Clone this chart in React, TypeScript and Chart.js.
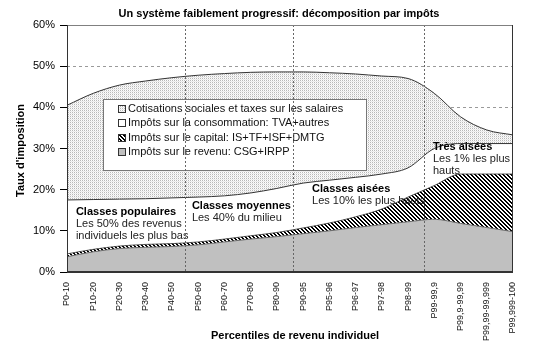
import React, { useEffect, useRef } from 'react';
import { Chart, registerables } from 'chart.js';

Chart.register(...registerables);

const FONT = "'Liberation Sans', Arial, sans-serif";

const categories = [
  'P0-10', 'P10-20', 'P20-30', 'P30-40', 'P40-50', 'P50-60', 'P60-70', 'P70-80', 'P80-90',
  'P90-95', 'P95-96', 'P96-97', 'P97-98', 'P98-99', 'P99-99,9', 'P99,9-99,99', 'P99,99-99,999', 'P99,999-100',
];

// Rates by tax (percentage points), stacked bottom to top
const impotRevenu = [3.7, 4.9, 5.7, 6.0, 6.2, 6.6, 7.3, 8.0, 8.6, 9.3, 10.0, 10.8, 11.5, 12.2, 12.8, 11.8, 10.8, 9.8];
const impotCapital = [0.7, 0.6, 0.6, 0.7, 0.7, 0.7, 0.7, 0.8, 1.0, 1.4, 1.9, 2.6, 3.8, 6.0, 8.2, 12.0, 13.0, 14.0];
const impotConsommation = [13.1, 12.1, 11.4, 11.1, 11.1, 10.9, 10.5, 10.4, 10.7, 10.9, 10.4, 9.6, 8.5, 7.1, 9.0, 7.4, 7.4, 7.4];
const cotisations = [23.0, 25.8, 27.7, 28.6, 29.2, 29.6, 29.7, 29.3, 28.3, 27.0, 26.1, 25.1, 23.8, 21.7, 13.4, 6.5, 3.3, 2.1];

const seriesLabels = [
  'Impôts sur le revenu: CSG+IRPP',
  'Impôts sur le capital: IS+TF+ISF+DMTG',
  'Impôts sur la consommation: TVA+autres',
  'Cotisations sociales et taxes sur les salaires',
];

const yMin = 0;
const yMax = 60;
const yStep = 10;

// Group separators (between category indices)
const groupBoundaries = [4.5, 8.6, 13.6];

const groupNotes = [
  { x: 0.34, y: 14.6, lines: ['Classes populaires', 'Les 50% des revenus', 'individuels les plus bas'] },
  { x: 4.76, y: 16.0, lines: ['Classes moyennes', 'Les 40% du milieu'] },
  { x: 9.34, y: 20.2, lines: ['Classes aisées', 'Les 10% les plus hauts'] },
  { x: 13.95, y: 30.4, lines: ['Très aisées', 'Les 1% les plus', 'hauts'] },
];

const chartTitle = 'Un système faiblement progressif: décomposition par impôts';
const xTitle = 'Percentiles de revenu individuel';
const yTitle = "Taux d'imposition";

function makePattern(kind: 'dots' | 'hatch'): CanvasPattern | string {
  const c = document.createElement('canvas');
  const size = kind === 'dots' ? 2 : 4;
  c.width = size;
  c.height = size;
  const g = c.getContext('2d');
  if (!g) return '#ccc';
  g.fillStyle = '#fff';
  g.fillRect(0, 0, size, size);
  if (kind === 'dots') {
    g.fillStyle = '#b8b8b8';
    g.fillRect(0, 0, 1, 1);
    g.fillStyle = '#e8e8e8';
    g.fillRect(1, 1, 1, 1);
    g.fillStyle = '#f4f4f4';
    g.fillRect(0, 1, 1, 1);
  } else {
    g.fillStyle = '#000';
    for (let yy = 0; yy < size; yy++) {
      for (let xx = 0; xx < size; xx++) {
        const d = (((xx - yy) % 4) + 4) % 4;
        if (d === 0 || d === 1) g.fillRect(xx, yy, 1, 1);
      }
    }
  }
  const p = g.createPattern(c, 'repeat');
  return p || '#ccc';
}

const overlayPlugin = {
  id: 'overlay',
  afterDatasetsDraw(chart: any) {
    const { ctx, chartArea: a, scales } = chart;
    const x = scales.x;
    const y = scales.y;
    ctx.save();

    // group annotations
    ctx.textAlign = 'left';
    ctx.textBaseline = 'middle';
    for (const n of groupNotes) {
      const px = x.getPixelForValue(n.x);
      const py = y.getPixelForValue(n.y);
      n.lines.forEach((t, i) => {
        ctx.font = (i === 0 ? 'bold ' : '') + '11px ' + FONT;
        ctx.fillStyle = i === 0 ? '#000' : '#222';
        ctx.fillText(t, px, py + i * 12);
      });
    }

    // legend box
    const lx = 103, ly = 99, lw = 263, lh = 71;
    ctx.fillStyle = '#fff';
    ctx.fillRect(lx, ly, lw, lh);
    ctx.strokeStyle = '#777';
    ctx.lineWidth = 1;
    ctx.strokeRect(lx + 0.5, ly + 0.5, lw, lh);
    const ds = chart.data.datasets.slice().reverse();
    ds.forEach((d: any, i: number) => {
      const cy = 109 + i * 14.3;
      ctx.fillStyle = d.backgroundColor;
      ctx.fillRect(119, Math.round(cy - 3), 6, 6);
      ctx.strokeStyle = '#333';
      ctx.strokeRect(118.5, Math.round(cy - 3) - 0.5, 7, 7);
      ctx.fillStyle = '#111';
      ctx.font = '11px ' + FONT;
      ctx.textAlign = 'left';
      ctx.textBaseline = 'middle';
      ctx.fillText(d.label, 128, cy);
    });

    // group separators
    ctx.strokeStyle = '#666';
    ctx.lineWidth = 1;
    ctx.setLineDash([2, 2]);
    for (const b of groupBoundaries) {
      const px = Math.round(x.getPixelForValue(b)) + 0.5;
      ctx.beginPath();
      ctx.moveTo(px, a.top);
      ctx.lineTo(px, a.bottom);
      ctx.stroke();
    }
    ctx.setLineDash([]);

    // plot frame
    ctx.strokeStyle = '#808080';
    ctx.beginPath();
    ctx.moveTo(a.left, a.top + 0.5);
    ctx.lineTo(a.right, a.top + 0.5);
    ctx.stroke();
    ctx.strokeStyle = '#333';
    ctx.beginPath();
    ctx.moveTo(a.left + 0.5, a.top);
    ctx.lineTo(a.left + 0.5, a.bottom);
    ctx.moveTo(a.right - 0.5, a.top);
    ctx.lineTo(a.right - 0.5, a.bottom);
    ctx.stroke();
    ctx.lineWidth = 2;
    ctx.strokeStyle = '#333';
    ctx.beginPath();
    ctx.moveTo(a.left, a.bottom);
    ctx.lineTo(a.right, a.bottom);
    ctx.stroke();

    ctx.restore();
  },
  afterDraw(chart: any) {
    const { ctx, chartArea: a } = chart;
    ctx.save();
    ctx.fillStyle = '#000';
    ctx.font = 'bold 11px ' + FONT;
    ctx.textAlign = 'center';
    ctx.textBaseline = 'middle';
    ctx.fillText(chartTitle, 279, 14);
    ctx.fillText(xTitle, (a.left + a.right) / 2 + 5, 336);
    ctx.translate(21, (a.top + a.bottom) / 2 + 2);
    ctx.rotate(-Math.PI / 2);
    ctx.fillText(yTitle, 0, 0);
    ctx.restore();
  },
};

export default function App() {
  const ref = useRef<HTMLCanvasElement | null>(null);

  useEffect(() => {
    document.body.style.margin = '0';
    const canvas = ref.current;
    if (!canvas) return;
    const dots = makePattern('dots');
    const hatch = makePattern('hatch');

    const common = {
      pointRadius: 0,
      pointHoverRadius: 0,
      cubicInterpolationMode: 'monotone' as const,
    };

    const chart = new Chart(canvas, {
      type: 'line',
      data: {
        labels: categories,
        datasets: [
          { ...common, label: seriesLabels[0], data: impotRevenu, backgroundColor: '#c0c0c0', borderColor: '#6a6a6a', borderWidth: 1, fill: 'origin' },
          { ...common, label: seriesLabels[1], data: impotCapital, backgroundColor: hatch as any, borderColor: '#333', borderWidth: 0.8, fill: '-1' },
          { ...common, label: seriesLabels[2], data: impotConsommation, backgroundColor: '#ffffff', borderColor: '#333', borderWidth: 1, fill: '-1' },
          { ...common, label: seriesLabels[3], data: cotisations, backgroundColor: dots as any, borderColor: '#333', borderWidth: 1, fill: '-1' },
        ],
      },
      options: {
        responsive: false,
        animation: false,
        devicePixelRatio: 1,
        layout: { padding: { top: 25, right: 35, left: 0, bottom: 0 } },
        plugins: {
          legend: { display: false },
          title: { display: false },
          tooltip: { enabled: false },
        },
        scales: {
          x: {
            type: 'category',
            offset: false,
            grid: { display: false, drawTicks: false },
            border: { display: false },
            ticks: {
              autoSkip: false,
              minRotation: 90,
              maxRotation: 90,
              padding: 10,
              color: '#111',
              font: { family: FONT, size: 9 },
            },
            afterFit: (s: any) => { s.height = 87; },
          },
          y: {
            stacked: true,
            min: yMin,
            max: yMax,
            ticks: {
              stepSize: yStep,
              padding: 5,
              color: '#000',
              font: { family: FONT, size: 11 },
              callback: (v: any) => v + '%',
            },
            grid: { color: '#9a9a9a', lineWidth: 1, tickColor: '#000', tickLength: 7, drawTicks: true },
            border: { display: false, dash: [3, 3] },
            afterFit: (s: any) => { s.width = 67; },
          },
        },
      },
      plugins: [overlayPlugin],
    });
    return () => chart.destroy();
  }, []);

  return (
    <div style={{ position: 'absolute', left: 0, top: 0, width: 548, height: 359, background: '#fff' }}>
      <canvas ref={ref} width={548} height={359} style={{ width: 548, height: 359, display: 'block' }} />
    </div>
  );
}
